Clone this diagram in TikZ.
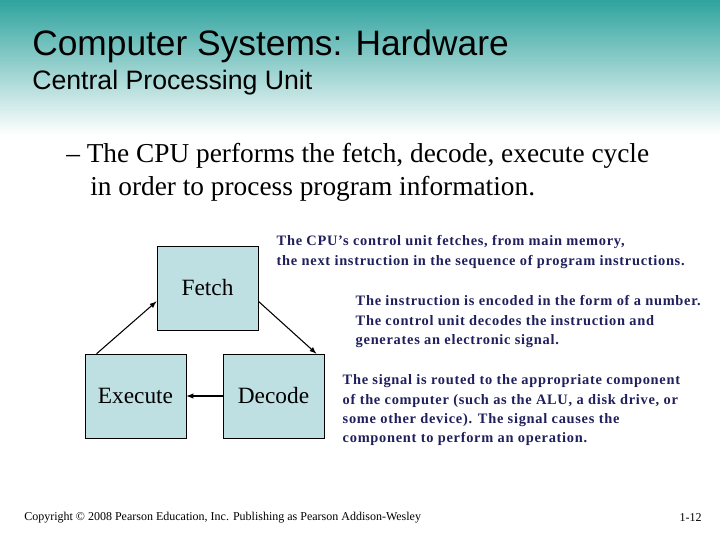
\documentclass[tikz,border=0pt]{standalone}
\usepackage{fontspec}
\setmainfont{Liberation Serif}
\setsansfont{Liberation Sans}
\usetikzlibrary{positioning}
\definecolor{boxfill}{HTML}{BFE0E3}
\definecolor{headteal}{HTML}{2FA39E}
\definecolor{notenavy}{HTML}{1F1F5C}

\begin{document}
\begin{tikzpicture}[
                x=0.75pt,
                y=-0.75pt,
                stage/.style={draw, fill=boxfill, minimum width=76pt, minimum height=63pt, font=\fontsize{17.5}{20}\selectfont},
                note/.style={anchor=north west, align=left, text=notenavy, font=\bfseries\fontsize{10.8}{14.5}\selectfont\addfontfeature{LetterSpace=5}},
                flow/.style={->, >=latex, thick},
            ]
            % Canvas and header band
            \useasboundingbox (0,0) rectangle (720,540);
            \shade[top color=headteal, bottom color=white] (0,0) rectangle (720,135);

            % Title
            \node[anchor=west, inner sep=0pt, font=\sffamily\fontsize{26.5}{30}\selectfont] (title) at (32,46) {Computer Systems: Hardware};
            \node[anchor=west, inner sep=0pt, font=\sffamily\fontsize{20}{24}\selectfont] (subtitle) at (32,83) {Central Processing Unit};
            \node[anchor=north west, inner sep=0pt, align=left, font=\fontsize{20.5}{25}\selectfont] (lead) at (66,143)
                {-- The CPU performs the fetch, decode, execute cycle\\\hspace{18pt}in order to process program information.};

            % The cycle
            \node[stage] (fetch) at (207.5,288) {Fetch};
            \node[stage] (execute) at (135.5,396) {Execute};
            \node[stage] (decode) at (273.5,396) {Decode};

            \draw[flow] (execute.north west) ++(12,0) coordinate (e1) -- ([yshift=-10pt]fetch.west);
            \draw[flow] ([yshift=-10pt]fetch.east) -- ([xshift=-6pt]decode.north east);
            \draw[flow] (decode) -- (execute);

            % Notes
            \node[note] (n1) at (272,231) {The CPU's control unit fetches, from main memory,\\the next instruction in the sequence of program instructions.};
            \node[note] (n2) at (351,291) {The instruction is encoded in the form of a number.\\The control unit decodes the instruction and\\generates an electronic signal.};
            \node[note] (n3) at (338,370) {The signal is routed to the appropriate component\\of the computer (such as the ALU, a disk drive, or\\some other device). The signal causes the\\component to perform an operation.};

            % Footer
            \node[anchor=west, inner sep=0pt, font=\fontsize{9}{11}\selectfont] (copy) at (24,518) {Copyright © 2008 Pearson Education, Inc. Publishing as Pearson Addison-Wesley};
            \node[anchor=east, inner sep=0pt, font=\fontsize{9}{11}\selectfont] (page) at (702,518) {1-12};
        \end{tikzpicture}
\end{document}
